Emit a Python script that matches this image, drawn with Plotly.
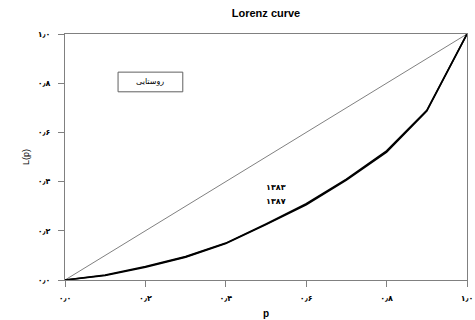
import plotly.graph_objects as go

p = [0, 0.1, 0.2, 0.3, 0.4, 0.5, 0.6, 0.7, 0.8, 0.9, 1.0]
L_1383 = [0, 0.02, 0.055, 0.095, 0.15, 0.228, 0.31, 0.41, 0.525, 0.69, 1.0]
L_1387 = [0, 0.018, 0.052, 0.093, 0.148, 0.225, 0.306, 0.406, 0.52, 0.687, 1.0]
equality = [0, 1.0]
tick_vals = [0, 0.2, 0.4, 0.6, 0.8, 1.0]
tick_text = ["۰٫۰", "۰٫۲", "۰٫۴", "۰٫۶", "۰٫۸", "۱٫۰"]

fig = go.Figure()
fig.add_trace(go.Scatter(x=equality, y=equality, mode="lines",
                         line=dict(color="#808080", width=1), showlegend=False))
fig.add_trace(go.Scatter(x=p, y=L_1383, mode="lines", name="۱۳۸۳",
                         line=dict(color="black", width=1.6), showlegend=False))
fig.add_trace(go.Scatter(x=p, y=L_1387, mode="lines", name="۱۳۸۷",
                         line=dict(color="black", width=1.6), showlegend=False))

axis_common = dict(range=[0, 1], tickvals=tick_vals, ticktext=tick_text,
                   showgrid=False, zeroline=False, showline=True, mirror=True,
                   linecolor="#808080", linewidth=1, ticks="outside", ticklen=6,
                   tickcolor="#808080", automargin=False,
                   tickfont=dict(family="DejaVu Sans", size=8, color="black",
                                 weight="bold"))

fig.update_layout(
    width=475, height=320,
    margin=dict(l=65, r=8, t=34, b=40),
    paper_bgcolor="white", plot_bgcolor="white",
    title=dict(text="<b>Lorenz curve</b>", x=(65 + 467) / 2 / 475, xanchor="center",
               y=1 - 13 / 320, yanchor="middle",
               font=dict(family="Liberation Sans", size=11, color="black")),
    xaxis=dict(**axis_common, ticklabelstandoff=4,
               title=dict(text="<b>p</b>", standoff=8,
                          font=dict(family="Liberation Sans", size=10, color="black"))),
    yaxis=dict(**axis_common, ticklabelstandoff=6,
               title=dict(text="L(p)", standoff=6,
                          font=dict(family="Liberation Sans", size=9, color="black"))),
)

fig.add_annotation(x=0.525, y=0.375, text="<b>۱۳۸۳</b>", showarrow=False,
                   font=dict(family="DejaVu Sans", size=8, color="black"))
fig.add_annotation(x=0.525, y=0.32, text="<b>۱۳۸۷</b>", showarrow=False,
                   font=dict(family="DejaVu Sans", size=8, color="black"))
fig.add_shape(type="rect", x0=0.132, x1=0.293, y0=0.765, y1=0.845,
              line=dict(color="#606060", width=1), fillcolor="white")
fig.add_annotation(x=0.212, y=0.805, text="روستایی", showarrow=False,
                   font=dict(family="DejaVu Sans", size=8, color="black"))

fig.write_html("out.html")
